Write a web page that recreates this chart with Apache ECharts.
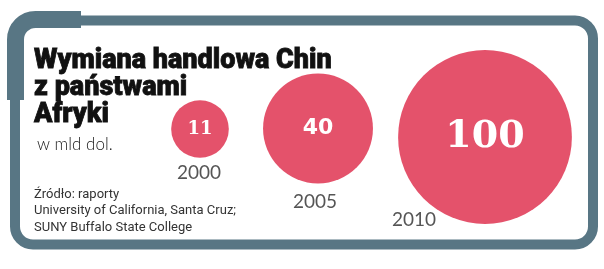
<!DOCTYPE html>
<html>
<head>
<meta charset="utf-8">
<script src="https://cdn.jsdelivr.net/npm/echarts@6/dist/echarts.min.js"></script>
<style>
  html, body { margin: 0; padding: 0; background: #fff; }
  #chart { width: 604px; height: 269px; }
</style>
</head>
<body>
<div id="chart"></div>
<script>
// dane: wymiana handlowa Chin z Afryką (mld dol.)
var years = ['2000', '2005', '2010'];
var values = [11, 40, 100];

var titleText = 'Wymiana handlowa Chin\nz państwami\nAfryki';
var unitText = 'w mld dol.';
var sourceText = 'Źródło: raporty\nUniversity of California, Santa Cruz;\nSUNY Buffalo State College';

// przesunięcia bąbli i podpisów (układ)
var bubbleShift = [[0, 0], [-24.5, -0.5], [0, 8]];
var yearShift = [[-1, 44], [-27.5, 73], [-71, 91]];
var valueFonts = [
    {fontFamily: 'DejaVu Serif', fontSize: 18},
    {fontFamily: 'DejaVu Sans', fontSize: 22},
    {fontFamily: 'DejaVu Serif', fontSize: 38}
];

var frameColor = '#587684';
var bubbleColor = '#e4526b';

var myChart = echarts.init(document.getElementById('chart'));

var bubbleData = values.map(function (v, i) {
    return {
        value: [i, 0, v],
        symbolOffset: bubbleShift[i],
        label: {
            fontFamily: valueFonts[i].fontFamily,
            fontSize: valueFonts[i].fontSize
        }
    };
});

var yearData = values.map(function (v, i) {
    return {
        value: [i, 0, v],
        label: {offset: yearShift[i]}
    };
});

var option = {
    animation: false,
    title: [
        {
            text: titleText,
            left: 34,
            top: 48,
            padding: 0,
            textStyle: {
                fontFamily: 'Roboto',
                fontWeight: 900,
                fontSize: 27,
                lineHeight: 27,
                color: '#111',
                textBorderColor: '#111',
                textBorderWidth: 0.8
            }
        },
        {
            text: unitText,
            left: 37,
            top: 136,
            padding: 0,
            textStyle: {
                fontFamily: 'Lato',
                fontWeight: 300,
                fontSize: 17,
                color: '#1a1a1a'
            }
        },
        {
            text: sourceText,
            left: 34,
            top: 186,
            padding: 0,
            textStyle: {
                fontFamily: 'Roboto',
                fontWeight: 'normal',
                fontSize: 13,
                lineHeight: 16.5,
                color: '#333'
            }
        }
    ],
    graphic: [
        {
            type: 'rect',
            shape: {x: 15, y: 20.5, width: 578, height: 224, r: 18},
            style: {fill: null, stroke: frameColor, lineWidth: 10},
            z: 1
        },
        // grubszy narożnik w lewym górnym rogu
        {
            type: 'arc',
            shape: {cx: 35.5, cy: 39.5, r: 20, startAngle: Math.PI, endAngle: Math.PI * 1.5},
            style: {fill: null, stroke: frameColor, lineWidth: 17},
            z: 2
        },
        {
            type: 'line',
            shape: {x1: 35, y1: 19.5, x2: 81, y2: 19.5},
            style: {stroke: frameColor, lineWidth: 17},
            z: 2
        },
        {
            type: 'line',
            shape: {x1: 15.5, y1: 39, x2: 15.5, y2: 100},
            style: {stroke: frameColor, lineWidth: 17},
            z: 2
        }
    ],
    grid: {left: 128.75, width: 427.5, top: 100, height: 58},
    xAxis: {
        type: 'category',
        data: years,
        show: false
    },
    yAxis: {
        type: 'category',
        data: [''],
        show: false
    },
    series: [
        {
            name: 'bąble',
            type: 'scatter',
            data: bubbleData,
            symbolSize: function (val) {
                return 2 * Math.sqrt(val[2] * 75.5);
            },
            itemStyle: {color: bubbleColor, opacity: 1},
            label: {
                show: true,
                position: 'inside',
                color: '#fff',
                fontWeight: 'bold',
                formatter: function (p) { return p.value[2]; }
            },
            silent: true
        },
        {
            name: 'lata',
            type: 'scatter',
            data: yearData,
            symbolSize: 0,
            label: {
                show: true,
                position: 'inside',
                fontFamily: 'Lato',
                fontWeight: 'normal',
                fontSize: 19,
                color: '#2a2a2a',
                formatter: function (p) { return years[p.value[0]]; }
            },
            silent: true
        }
    ]
};

myChart.setOption(option);
</script>
</body>
</html>
